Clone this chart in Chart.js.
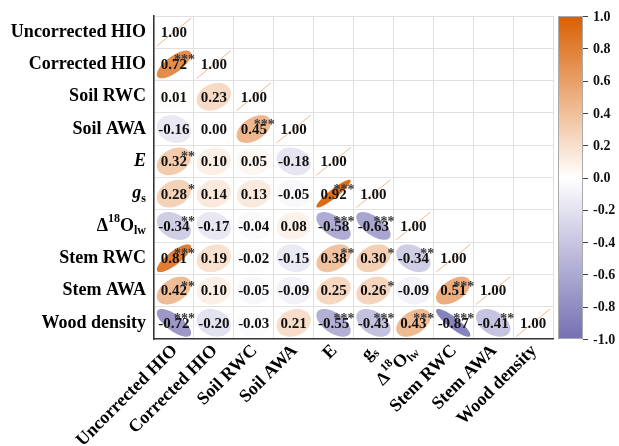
<!DOCTYPE html>
<html>
<head>
<meta charset="utf-8">
<script src="https://cdn.jsdelivr.net/npm/chart.js@4.4.1/dist/chart.umd.min.js"></script>
<style>
  html, body { margin: 0; padding: 0; background: #ffffff; }
  #wrap { width: 619px; height: 446px; }
</style>
</head>
<body>
<div id="wrap"><canvas id="c" width="619" height="446"></canvas></div>
<script>
// ---------------- DATA ----------------
const variables = ['Uncorrected HIO', 'Corrected HIO', 'Soil RWC', 'Soil AWA', 'E', 'gs', 'Δ18Olw', 'Stem RWC', 'Stem AWA', 'Wood density'];

// lower triangle of the correlation matrix (row i, columns 0..i)
const corrRows = [
  [1.00],
  [0.72, 1.00],
  [0.01, 0.23, 1.00],
  [-0.16, 0.00, 0.45, 1.00],
  [0.32, 0.10, 0.05, -0.18, 1.00],
  [0.28, 0.14, 0.13, -0.05, 0.92, 1.00],
  [-0.34, -0.17, -0.04, 0.08, -0.58, -0.63, 1.00],
  [0.81, 0.19, -0.02, -0.15, 0.38, 0.30, -0.34, 1.00],
  [0.42, 0.10, -0.05, -0.09, 0.25, 0.26, -0.09, 0.51, 1.00],
  [-0.72, -0.20, -0.03, 0.21, -0.55, -0.43, 0.43, -0.87, -0.41, 1.00]
];

// significance stars, same shape as corrRows
const sigRows = [
  [''],
  ['***', ''],
  ['', '', ''],
  ['', '', '***', ''],
  ['**', '', '', '', ''],
  ['*', '', '', '', '***', ''],
  ['**', '', '', '', '***', '***', ''],
  ['***', '', '', '', '**', '*', '**', ''],
  ['**', '', '', '', '', '*', '', '***', ''],
  ['***', '', '', '', '***', '***', '***', '***', '**', '']
];

const colorbarTicks = [1.0, 0.8, 0.6, 0.4, 0.2, 0.0, -0.2, -0.4, -0.6, -0.8, -1.0];

// ---------------- STYLE ----------------
const SERIF = '"Liberation Serif", "Times New Roman", serif';
const POS = [217, 95, 2];
const NEG = [117, 112, 179];

function corrColor(r) {
  const t = Math.min(1, Math.abs(r));
  const c = r >= 0 ? POS : NEG;
  const rr = Math.round(255 + (c[0] - 255) * t);
  const gg = Math.round(255 + (c[1] - 255) * t);
  const bb = Math.round(255 + (c[2] - 255) * t);
  return `rgb(${rr},${gg},${bb})`;
}

// rich label pieces (sub/superscripts)
function labelParts(name, forRows) {
  if (name === 'E') return [{ t: 'E', italic: forRows }];
  if (name === 'gs') return [{ t: 'g', italic: forRows }, { t: 's', size: 12, dy: 5 }];
  if (name === 'Δ18Olw') return [{ t: 'Δ' }, { t: '18', size: 12, dy: -7 }, { t: 'O' }, { t: 'lw', size: 12, dy: 5 }];
  return [{ t: name }];
}

function partFont(p, base) {
  return `${p.italic ? 'italic ' : ''}bold ${p.size || base}px ${SERIF}`;
}

function drawParts(ctx, parts, x, y, base) {
  // right aligned at x, baseline middle at y
  let total = 0;
  parts.forEach(p => { ctx.font = partFont(p, base); total += ctx.measureText(p.t).width; });
  let cx = x - total;
  ctx.textAlign = 'left';
  ctx.textBaseline = 'middle';
  parts.forEach(p => {
    ctx.font = partFont(p, base);
    ctx.fillText(p.t, cx, y + (p.dy || 0));
    cx += ctx.measureText(p.t).width;
  });
}

// ---------------- DATASET ----------------
const points = [];
corrRows.forEach((row, i) => {
  row.forEach((v, j) => {
    points.push({ x: variables[j], y: variables[i], r: v, sig: sigRows[i][j] });
  });
});

const ELL = 0.86;

const corrPlugin = {
  id: 'corrPlugin',
  afterDatasetsDraw(chart) {
    const ctx = chart.ctx;
    const xs = chart.scales.x, ys = chart.scales.y;
    const cw = Math.abs(xs.getPixelForValue(1) - xs.getPixelForValue(0));
    const chh = Math.abs(ys.getPixelForValue(1) - ys.getPixelForValue(0));
    const meta = chart.getDatasetMeta(0);
    const data = chart.data.datasets[0].data;
    ctx.save();
    meta.data.forEach((el, k) => {
      const d = data[k];
      const cx = el.x, cy = el.y;
      if (d.r >= 0.999) {
        ctx.strokeStyle = 'rgba(217,95,2,0.45)';
        ctx.lineWidth = 1;
        ctx.beginPath();
        ctx.moveTo(cx - 0.5 * ELL * cw, cy + 0.5 * ELL * chh);
        ctx.lineTo(cx + 0.5 * ELL * cw, cy - 0.5 * ELL * chh);
        ctx.stroke();
      } else {
        const a = Math.acos(d.r) / 2;
        ctx.fillStyle = corrColor(d.r);
        ctx.beginPath();
        for (let s = 0; s <= 100; s++) {
          const k2 = s / 100 * Math.PI * 2;
          const ex = Math.cos(k2 + a) / 2;
          const ey = Math.cos(k2 - a) / 2;
          const px = cx + ex * ELL * cw;
          const py = cy - ey * ELL * chh;
          if (s === 0) ctx.moveTo(px, py); else ctx.lineTo(px, py);
        }
        ctx.closePath();
        ctx.fill();
      }
    });
    // values and stars
    meta.data.forEach((el, k) => {
      const d = data[k];
      ctx.fillStyle = '#111';
      ctx.font = `bold 15px ${SERIF}`;
      ctx.textAlign = 'center';
      ctx.textBaseline = 'middle';
      ctx.fillText(d.r.toFixed(2), el.x, el.y + 1);
      if (d.sig) {
        ctx.fillStyle = '#3a3a3a';
        ctx.font = `bold 14px ${SERIF}`;
        ctx.textAlign = 'right';
        ctx.textBaseline = 'alphabetic';
        ctx.fillText(d.sig, el.x + 21, el.y);
      }
    });
    ctx.restore();
  },
  afterDraw(chart) {
    const ctx = chart.ctx;
    const xs = chart.scales.x, ys = chart.scales.y;
    const area = chart.chartArea;
    ctx.save();
    ctx.fillStyle = '#000';
    // row labels
    variables.forEach((name, i) => {
      const y = ys.getPixelForValue(i);
      drawParts(ctx, labelParts(name, true), area.left - 8, y, 18);
    });
    // column labels rotated 45 deg
    variables.forEach((name, j) => {
      const x = xs.getPixelForValue(j);
      ctx.save();
      ctx.translate(x + 1, area.bottom + 9);
      ctx.rotate(-Math.PI / 4);
      drawParts(ctx, labelParts(name, false), 0, 0, 18);
      ctx.restore();
    });
    // colour bar
    const bx = area.right + 5, bw = 25;
    const top = area.top, bot = area.bottom;
    const grad = ctx.createLinearGradient(0, top, 0, bot);
    grad.addColorStop(0, corrColor(1));
    grad.addColorStop(0.5, '#ffffff');
    grad.addColorStop(1, corrColor(-1));
    ctx.fillStyle = grad;
    ctx.fillRect(bx, top, bw, bot - top);
    ctx.strokeStyle = '#aaa';
    ctx.lineWidth = 1;
    ctx.strokeRect(bx + 0.5, top + 0.5, bw - 1, bot - top - 1);
    ctx.strokeStyle = '#444';
    ctx.fillStyle = '#111';
    ctx.font = `bold 14px ${SERIF}`;
    ctx.textAlign = 'left';
    ctx.textBaseline = 'middle';
    colorbarTicks.forEach(v => {
      const y = top + (1 - v) / 2 * (bot - top);
      ctx.beginPath();
      ctx.moveTo(bx + bw, Math.round(y) + 0.5);
      ctx.lineTo(bx + bw + 5, Math.round(y) + 0.5);
      ctx.stroke();
      ctx.fillText(v.toFixed(1), bx + bw + 10, y + 1);
    });
    ctx.restore();
  }
};

new Chart(document.getElementById('c'), {
  type: 'scatter',
  data: {
    datasets: [{
      data: points,
      pointRadius: 0,
      pointHoverRadius: 0,
      showLine: false
    }]
  },
  options: {
    responsive: false,
    animation: false,
    events: [],
    layout: { padding: { left: 154, top: 16, right: 66, bottom: 107 } },
    plugins: { legend: { display: false }, tooltip: { enabled: false } },
    scales: {
      x: {
        type: 'category',
        labels: variables,
        offset: true,
        grid: { offset: true, color: '#e0e0e0', drawTicks: false, lineWidth: 1 },
        border: { display: true, color: '#333', width: 1.5 },
        ticks: { display: false }
      },
      y: {
        type: 'category',
        labels: variables,
        offset: true,
        grid: { offset: true, color: '#e0e0e0', drawTicks: false, lineWidth: 1 },
        border: { display: true, color: '#333', width: 1.5 },
        ticks: { display: false }
      }
    }
  },
  plugins: [corrPlugin]
});
</script>
</body>
</html>
